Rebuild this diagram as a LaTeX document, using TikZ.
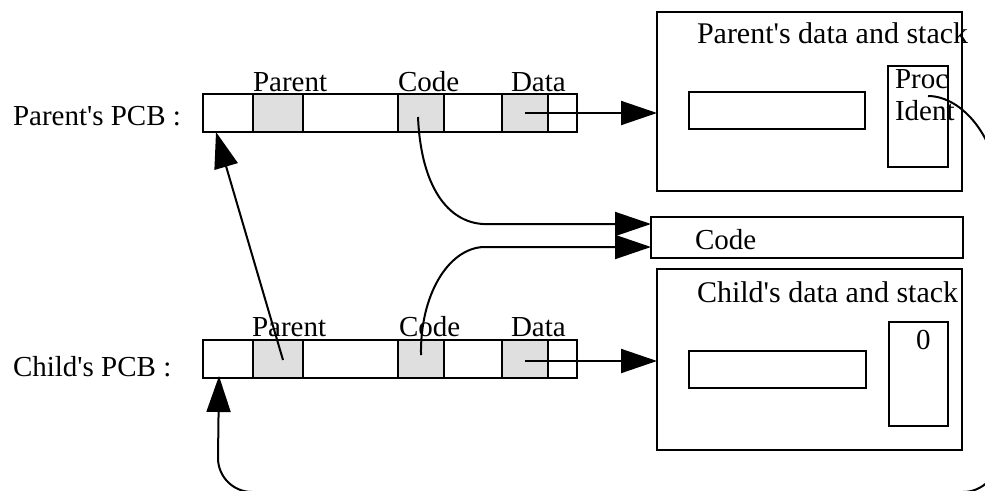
\documentclass[tikz,border=0pt]{standalone}
\usepackage{fontspec}
\setmainfont{Liberation Serif}
\usetikzlibrary{arrows.meta,calc}
\newcommand{\ap}{\textquotesingle}
\begin{document}
\begin{tikzpicture}[x=1pt,y=-1pt,
  cell/.style={draw,line width=2.7pt,inner sep=0pt,outer sep=0pt,minimum height=38pt},
  gcell/.style={cell,fill=gray!25},
  bigbox/.style={draw,line width=2.7pt,inner sep=0pt,outer sep=0pt},
  lbl/.style={anchor=base west,inner sep=0pt,outer sep=0pt,font=\fontsize{29}{33}\selectfont},
  wlbl/.style={lbl,font=\fontsize{30}{34}\selectfont},
  conn/.style={line width=2pt},
  arr/.style={conn,-{Triangle[length=36pt,width=24pt]}}]
\useasboundingbox (0,0) rectangle (985,490);

% Parent's PCB
\node[lbl] (plbl) at (13,125) {Parent\ap s PCB :};
\node[cell,minimum width=50pt] (pa) at (228,113) {};
\node[gcell,minimum width=50pt] (pp) at (278,113) {};
\node[cell,minimum width=95pt] (pb) at (350.5,113) {};
\node[gcell,minimum width=46pt] (pc) at (421,113) {};
\node[cell,minimum width=58pt] (pd) at (473,113) {};
\node[gcell,minimum width=46pt] (pe) at (525,113) {};
\node[cell,minimum width=29pt] (pf) at (562.5,113) {};
\node[lbl] (ptp) at (253,91) {Parent};
\node[lbl] (ptc) at (398,91) {Code};
\node[lbl] (ptd) at (511,91) {Data};

% Child's PCB
\node[lbl] (clbl) at (13,376) {Child\ap s PCB :};
\node[cell,minimum width=50pt] (ca) at (228,359) {};
\node[gcell,minimum width=50pt] (cp) at (278,359) {};
\node[cell,minimum width=95pt] (cb) at (350.5,359) {};
\node[gcell,minimum width=46pt] (cc) at (421,359) {};
\node[cell,minimum width=58pt] (cd) at (473,359) {};
\node[gcell,minimum width=46pt] (ce) at (525,359) {};
\node[cell,minimum width=29pt] (cf) at (562.5,359) {};
\node[lbl] (ctp) at (252,336) {Parent};
\node[lbl] (ctc) at (399,336) {Code};
\node[lbl] (ctd) at (511,336) {Data};

% Parent's data and stack
\node[bigbox,minimum width=305pt,minimum height=179pt] (pbox) at (809.5,101.5) {};
\node[bigbox,minimum width=176pt,minimum height=37pt] (pin) at (777,110.5) {};
\node[bigbox,minimum width=60pt,minimum height=101pt] (pid) at (918,116.5) {};
\node[wlbl] (pboxt) at (697,43) {Parent\ap s data and stack};
\node[lbl] (proc) at (895,88) {Proc};
\node[lbl] (ident) at (895,120) {Ident};

% Code
\node[bigbox,minimum width=312pt,minimum height=41pt] (codebox) at (807,237.5) {};
\node[lbl] (codet) at (695,249) {Code};

% Child's data and stack
\node[bigbox,minimum width=305pt,minimum height=181pt] (cbox) at (809.5,359.5) {};
\node[bigbox,minimum width=177pt,minimum height=37pt] (cin) at (777.5,369.5) {};
\node[bigbox,minimum width=59pt,minimum height=104pt] (cid) at (918.5,374) {};
\node[wlbl] (cboxt) at (697,302) {Child\ap s data and stack};
\node[lbl] (zero) at (916,349) {0};

% connectors
\coordinate (cu) at ($(codebox.west)+(0,-13.5)$);
\coordinate (cl) at ($(codebox.west)+(0,9.5)$);
\coordinate (pdat) at (pe.center -| pbox.west);
\coordinate (cdat) at ($(ce.center -| cbox.west)+(0,2)$);
\coordinate (procend) at (928,96);

\draw[arr] (pe.center) -- (pdat);
\draw[arr] ($(ce.center)+(0,2)$) -- (cdat);
\draw[arr] ($(pc.center)+(-3,4)$) .. controls +(3,70) and +(-35,-2) .. (483,224) -- (cu);
\draw[arr] ($(cc.center)+(0,-4)$) .. controls +(-1,-60) and +(-35,2) .. (483,247) -- (cl);
\draw[arr] ($(cp.center)+(5,1)$) -- ([xshift=-12pt]pa.south);

\begin{scope}
\clip (0,0) rectangle (985,490);
\draw[arr] (procend) .. controls +(35,0) and +(0,-50) .. (998,190) -- (998,457)
  arc[start angle=0,end angle=90,radius=35] -- (252,492)
  arc[start angle=90,end angle=180,radius=34] -- ([xshift=-9pt,yshift=2pt]ca.south);
\end{scope}
\end{tikzpicture}
\end{document}
